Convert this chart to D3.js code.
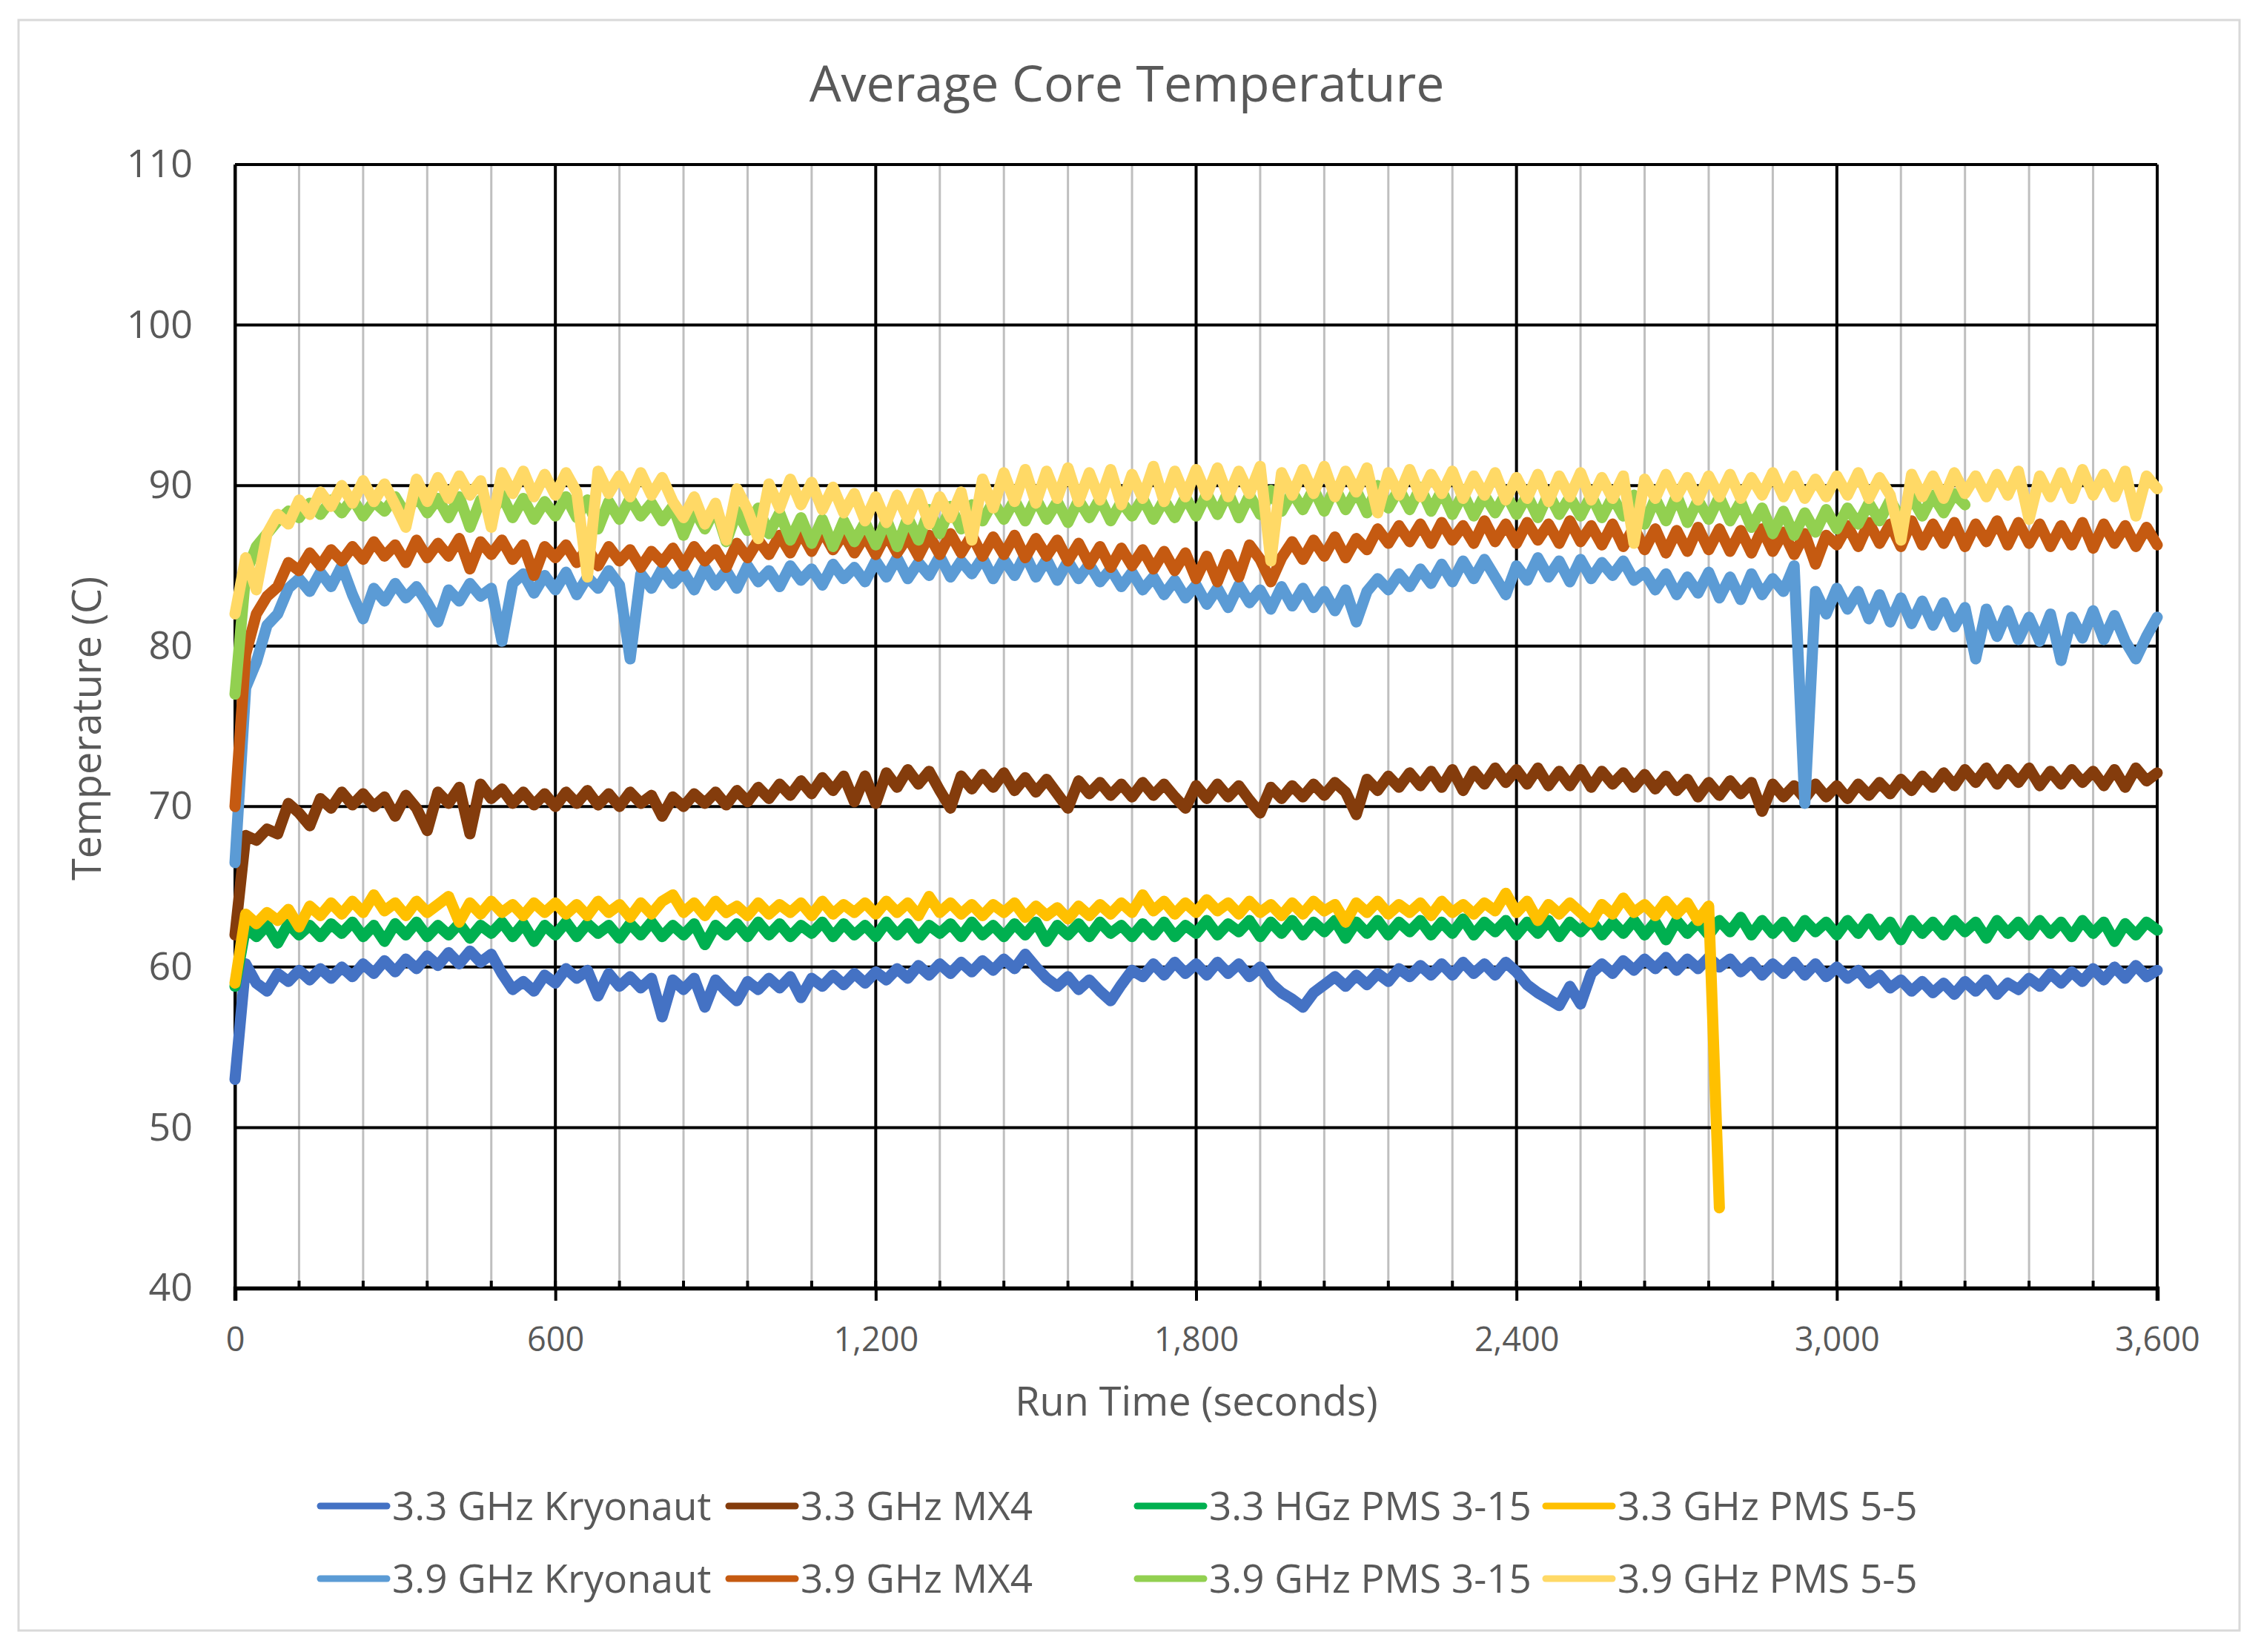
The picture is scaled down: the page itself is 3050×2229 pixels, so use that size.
<!DOCTYPE html>
<html lang="en">

<head>
    <meta charset="UTF-8">
    <title>Average Core Temperature</title>
    <script src="https://cdn.jsdelivr.net/npm/d3@7"></script>
    <style>
        body { margin: 0; background: #fff; }
        /* Excel-like grey text */
        text { font-family: "Open Sans", sans-serif; fill: #595959; }
    </style>
</head>

<body>
    <script>
        const width = 3050;
        const height = 2229;

        // one reading every 20 seconds
        const stepSeconds = 20;
        const xTicks = [0, 600, 1200, 1800, 2400, 3000, 3600];
        const xMinorStep = 120;
        const yTicks = [40, 50, 60, 70, 80, 90, 100, 110];

        const seriesNames = [
            "3.3 GHz Kryonaut", "3.3 GHz MX4", "3.3 HGz PMS 3-15", "3.3 GHz PMS 5-5",
            "3.9 GHz Kryonaut", "3.9 GHz MX4", "3.9 GHz PMS 3-15", "3.9 GHz PMS 5-5"
        ];
        const seriesColors = [
            "#4472C4", "#843C0C", "#00B050", "#FFC000",
            "#5B9BD5", "#C55A11", "#92D050", "#FFD966"
        ];

        const kryonaut33 = [
            53.0, 60.2, 59.0, 58.5, 59.6, 59.1, 59.8, 59.2, 59.9, 59.3,
            60.0, 59.4, 60.2, 59.6, 60.4, 59.7, 60.5, 59.9, 60.7, 60.1,
            60.9, 60.2, 61.0, 60.3, 60.8, 59.6, 58.6, 59.1, 58.5, 59.5,
            59.0, 59.9, 59.3, 59.8, 58.2, 59.6, 58.8, 59.4, 58.7, 59.3,
            56.9, 59.2, 58.6, 59.3, 57.5, 59.2, 58.5, 57.9, 59.1, 58.6,
            59.3, 58.7, 59.4, 58.1, 59.3, 58.8, 59.5, 58.9, 59.6, 59.0,
            59.7, 59.2, 59.9, 59.3, 60.1, 59.5, 60.2, 59.6, 60.3, 59.7,
            60.4, 59.8, 60.5, 59.9, 60.8, 60.0, 59.3, 58.8, 59.4, 58.6,
            59.2, 58.5, 57.9, 58.9, 59.8, 59.4, 60.2, 59.5, 60.3, 59.6,
            60.2, 59.5, 60.3, 59.6, 60.2, 59.4, 60.0, 59.0, 58.4, 58.0,
            57.5, 58.4, 58.9, 59.4, 58.8, 59.5, 58.9, 59.6, 59.1, 59.9,
            59.4, 60.1, 59.5, 60.2, 59.5, 60.3, 59.6, 60.2, 59.5, 60.3,
            59.7, 58.9, 58.4, 58.0, 57.6, 58.8, 57.7, 59.6, 60.2, 59.6,
            60.4, 59.8, 60.5, 59.9, 60.6, 59.8, 60.5, 59.9, 60.6, 60.0,
            60.5, 59.7, 60.3, 59.5, 60.2, 59.6, 60.3, 59.5, 60.2, 59.4,
            60.0, 59.3, 59.8, 59.0, 59.5, 58.7, 59.2, 58.5, 59.1, 58.4,
            59.0, 58.3, 59.1, 58.5, 59.2, 58.3, 59.0, 58.6, 59.3, 58.8,
            59.6, 59.0, 59.7, 59.1, 59.9, 59.2, 60.0, 59.3, 60.1, 59.4,
            59.8
        ];
        const mx4_33 = [
            62.0, 68.2, 67.9, 68.6, 68.3, 70.2, 69.6, 68.8, 70.5, 69.9,
            70.9, 70.1, 70.8, 70.0, 70.6, 69.4, 70.7, 69.9, 68.5, 70.9,
            70.2, 71.2, 68.3, 71.4, 70.5, 71.1, 70.2, 70.9, 70.1, 70.8,
            70.0, 70.9, 70.2, 71.0, 70.1, 70.8, 70.0, 70.9, 70.2, 70.7,
            69.4, 70.6, 70.0, 70.8, 70.2, 70.9, 70.1, 71.0, 70.3, 71.2,
            70.5, 71.4, 70.7, 71.6, 70.8, 71.8, 71.0, 71.9, 70.3, 71.9,
            70.2, 72.1, 71.2, 72.3, 71.4, 72.2, 71.0, 69.9, 71.9, 71.1,
            72.0, 71.2, 72.1, 71.0, 71.8, 70.9, 71.7, 70.8, 69.9, 71.6,
            70.8, 71.5, 70.7, 71.4, 70.6, 71.5, 70.7, 71.4, 70.6, 69.9,
            71.3, 70.5, 71.4, 70.6, 71.3, 70.4, 69.6, 71.2, 70.5, 71.3,
            70.6, 71.4, 70.7, 71.5, 70.9, 69.5, 71.7, 71.0, 71.9, 71.2,
            72.1, 71.3, 72.2, 71.2, 72.3, 71.0, 72.2, 71.4, 72.4, 71.5,
            72.3, 71.4, 72.4, 71.3, 72.2, 71.3, 72.3, 71.2, 72.2, 71.4,
            72.1, 71.2, 72.0, 71.1, 71.9, 71.0, 71.7, 70.6, 71.5, 70.7,
            71.6, 70.8, 71.5, 69.7, 71.4, 70.6, 71.3, 70.5, 71.4, 70.6,
            71.3, 70.5, 71.4, 70.7, 71.5, 70.8, 71.7, 71.0, 71.9, 71.2,
            72.1, 71.3, 72.3, 71.5, 72.4, 71.4, 72.3, 71.5, 72.4, 71.3,
            72.2, 71.4, 72.3, 71.5, 72.2, 71.3, 72.3, 71.2, 72.4, 71.6,
            72.1
        ];
        const pms315_33 = [
            58.8, 62.5, 61.9, 62.6, 61.5, 62.7, 62.0, 62.6, 61.9, 62.7,
            62.1, 62.8, 61.9, 62.6, 61.6, 62.7, 62.0, 62.8, 61.9, 62.6,
            62.0, 62.7, 61.8, 62.6, 62.1, 62.8, 61.9, 62.7, 61.6, 62.6,
            62.0, 62.8, 61.9, 62.7, 62.1, 62.6, 61.8, 62.7, 62.0, 62.8,
            61.9, 62.6, 62.0, 62.7, 61.4, 62.6, 62.0, 62.7, 61.9, 62.8,
            62.0, 62.7, 61.9, 62.6, 62.1, 62.8, 61.9, 62.7, 62.0, 62.6,
            61.9, 62.8, 62.0, 62.7, 61.8, 62.6, 62.1, 62.7, 61.9, 62.8,
            62.0, 62.6, 61.9, 62.7, 62.0, 62.8, 61.6, 62.6, 62.0, 62.7,
            61.9, 62.8, 62.1, 62.6, 61.9, 62.7, 62.0, 62.8, 61.9, 62.6,
            62.1, 62.9, 62.0, 62.7, 62.2, 62.9, 61.9, 62.8, 62.1, 62.9,
            62.0, 62.8, 62.2, 62.9, 61.8, 62.8, 62.1, 62.9, 62.0, 62.8,
            62.2, 62.9, 62.0, 62.8, 62.1, 63.0, 62.0, 62.8, 62.2, 62.9,
            62.0, 62.8, 62.1, 62.9, 61.9, 62.8, 62.2, 62.9, 62.0, 62.8,
            62.1, 62.9, 62.0, 62.8, 61.7, 62.9, 62.1, 62.8, 62.0, 62.9,
            62.2, 63.1, 62.0, 62.9, 62.1, 62.8, 61.9, 62.9, 62.2, 62.8,
            62.0, 62.9, 62.1, 63.0, 62.0, 62.8, 61.7, 62.9, 62.1, 62.8,
            62.0, 62.9, 62.2, 62.8, 61.8, 62.9, 62.1, 62.8, 62.0, 62.9,
            62.1, 62.8, 61.9, 62.9, 62.1, 62.8, 61.6, 62.7, 62.0, 62.8,
            62.3
        ];
        // this run stops at about 2780 s with a drop to 45
        const pms55_33 = [
            59.0, 63.3, 62.7, 63.4, 62.9, 63.6, 62.5, 63.8, 63.2, 64.0,
            63.3, 64.1, 63.4, 64.5, 63.5, 64.0, 63.2, 64.1, 63.4, 63.9,
            64.4, 62.8, 64.0, 63.3, 64.1, 63.4, 63.9, 63.2, 64.0, 63.4,
            64.0, 63.3, 63.9, 63.2, 64.1, 63.4, 63.9, 63.1, 64.0, 63.3,
            64.1, 64.5, 63.4, 64.0, 63.2, 64.1, 63.4, 63.8, 63.2, 64.0,
            63.3, 63.9, 63.4, 64.0, 63.2, 64.1, 63.3, 63.9, 63.4, 64.0,
            63.3, 64.1, 63.4, 64.0, 63.2, 64.4, 63.4, 64.0, 63.3, 63.9,
            63.2, 63.9, 63.4, 64.0, 63.1, 63.8, 63.2, 63.7, 63.0, 63.8,
            63.2, 63.9, 63.3, 64.0, 63.4, 64.5, 63.5, 64.1, 63.3, 64.0,
            63.4, 64.2, 63.5, 64.0, 63.3, 64.1, 63.4, 63.9, 63.2, 64.0,
            63.3, 64.1, 63.5, 63.9, 62.8, 64.0, 63.4, 64.1, 63.3, 63.9,
            63.4, 64.0, 63.2, 64.1, 63.4, 63.9, 63.3, 64.0, 63.5, 64.6,
            63.4, 64.1, 62.9, 63.9, 63.3, 64.0, 63.4, 62.8, 63.9, 63.3,
            64.3, 63.4, 63.9, 63.2, 64.1, 63.3, 64.0, 62.9, 63.8, 45.0
        ];
        const kryonaut39 = [
            66.5, 77.4, 79.0, 81.3, 82.0, 83.6, 84.2, 83.4, 84.6, 83.7,
            85.0, 83.2, 81.7, 83.6, 82.8, 83.9, 83.0, 83.7, 82.7, 81.5,
            83.5, 82.8, 83.9, 83.1, 83.6, 80.3, 83.9, 84.5, 83.3, 84.4,
            83.5, 84.6, 83.2, 84.3, 83.6, 84.7, 83.8, 79.2, 84.5, 83.6,
            84.8, 83.9, 84.6, 83.5, 84.9, 83.8, 84.7, 83.6, 85.0, 84.0,
            84.7, 83.7, 85.0, 84.1, 84.8, 83.8, 85.1, 84.2, 84.9, 84.0,
            85.3, 84.3, 85.5, 84.2, 85.2, 84.4, 85.6, 84.3, 85.3, 84.5,
            85.5, 84.2, 85.4, 84.4, 85.7, 84.3, 85.4, 84.1, 85.3, 84.2,
            85.1, 84.0, 84.8, 83.7, 84.6, 83.5, 84.3, 83.2, 84.1, 83.0,
            83.8, 82.6, 83.6, 82.4, 83.8, 82.7, 83.5, 82.3, 83.7, 82.5,
            83.6, 82.4, 83.4, 82.2, 83.5, 81.5, 83.4, 84.2, 83.5, 84.5,
            83.7, 84.8, 83.9, 85.1, 84.0, 85.3, 84.2, 85.4, 84.3, 83.2,
            85.0, 84.1, 85.5, 84.3, 85.3, 84.0, 85.4, 84.2, 85.2, 84.4,
            85.3, 84.1, 84.6, 83.5, 84.5, 83.2, 84.3, 83.3, 84.6, 83.0,
            84.3, 82.9, 84.5, 83.2, 84.2, 83.4, 85.0, 70.2, 83.4, 82.0,
            83.6, 82.3, 83.4, 81.7, 83.2, 81.5, 83.0, 81.4, 82.8, 81.3,
            82.7, 81.2, 82.4, 79.2, 82.3, 80.6, 82.2, 80.4, 81.8, 80.3,
            82.0, 79.1, 81.8, 80.5, 82.2, 80.4, 81.9, 80.3, 79.2, 80.6,
            81.8
        ];
        const mx4_39 = [
            70.0, 79.5, 82.0, 83.1, 83.7, 85.2, 84.7, 85.8, 85.0, 86.0,
            85.3, 86.2, 85.4, 86.5, 85.6, 86.3, 85.2, 86.6, 85.5, 86.4,
            85.6, 86.7, 84.8, 86.5, 85.7, 86.6, 85.4, 86.3, 84.4, 86.2,
            85.5, 86.3, 85.2, 86.1, 85.0, 86.2, 85.3, 86.0, 84.9, 85.9,
            85.2, 86.1, 85.0, 86.2, 85.3, 86.0, 84.9, 86.4, 85.5, 86.6,
            85.7, 86.9, 85.8, 87.1, 85.9, 87.2, 86.0, 87.0, 85.8, 86.9,
            85.7, 87.0, 85.8, 86.8, 85.6, 86.9, 85.7, 87.0, 85.8, 86.9,
            85.6, 86.8, 85.7, 86.9, 85.5, 86.7, 85.6, 86.6, 85.3, 86.4,
            85.1, 86.2, 84.9, 86.1, 85.0, 86.0, 84.8, 85.9, 84.7, 85.8,
            84.2, 85.6, 84.0, 85.7, 84.3, 86.3, 85.4, 84.0, 85.5, 86.5,
            85.4, 86.6, 85.6, 86.8, 85.5, 86.7, 86.0, 87.3, 86.4, 87.5,
            86.5, 87.6, 86.4, 87.7, 86.6, 87.5, 86.4, 87.8, 86.5, 87.6,
            86.4, 87.7, 86.6, 87.6, 86.4, 87.8, 86.5, 87.5, 86.3, 87.6,
            86.2, 87.4, 86.0, 87.3, 85.8, 87.2, 85.9, 87.4, 86.0, 87.3,
            85.9, 87.2, 85.8, 87.3, 85.9, 87.1, 85.7, 87.0, 85.1, 86.9,
            86.3, 87.5, 86.2, 87.7, 86.4, 87.6, 86.2, 87.8, 86.3, 87.6,
            86.4, 87.7, 86.2, 87.6, 86.5, 87.8, 86.3, 87.7, 86.4, 87.6,
            86.2, 87.5, 86.3, 87.7, 86.1, 87.6, 86.4, 87.5, 86.2, 87.4,
            86.3
        ];
        // this run stops at about 3240 s
        const pms315_39 = [
            77.0, 84.5, 86.2, 87.0, 87.8, 88.4, 88.0, 88.9, 88.2, 89.1,
            88.3, 89.2, 88.1, 89.0, 88.4, 89.3, 88.2, 89.4, 88.3, 89.2,
            88.0, 89.3, 87.4, 89.1, 88.2, 89.4, 88.0, 89.2, 87.9, 89.0,
            88.1, 89.3, 88.0, 89.1, 87.3, 89.0, 87.9, 89.2, 88.1, 88.9,
            87.8, 88.7, 86.9, 88.5, 87.3, 88.6, 86.5, 88.4, 87.2, 88.6,
            87.0, 88.3, 86.6, 88.0, 86.4, 87.9, 86.2, 87.8, 86.5, 87.7,
            86.3, 87.9, 86.2, 88.0, 86.6, 88.5, 87.0, 88.7, 87.3, 88.8,
            87.8, 89.0, 87.9, 89.1, 87.8, 89.2, 87.9, 89.0, 87.7, 89.1,
            88.0, 89.2, 87.8, 89.0, 88.1, 89.2, 87.9, 89.1, 88.0, 89.3,
            88.1, 89.5, 88.2, 89.6, 88.0, 89.4, 88.2, 89.7, 88.4, 89.6,
            88.5, 89.8, 88.4, 89.9, 88.5, 89.7, 88.3, 90.0, 88.6, 89.8,
            88.5, 89.9, 88.4, 89.7, 88.2, 89.5, 88.1, 89.4, 88.3, 89.5,
            88.2, 89.4, 88.0, 89.5, 88.2, 89.3, 88.1, 89.4, 88.0, 89.3,
            88.1, 89.4, 87.6, 89.2, 87.8, 89.4, 87.7, 89.1, 87.9, 89.3,
            87.8, 89.0, 87.4, 88.6, 87.0, 88.4, 86.9, 88.3, 87.1, 88.5,
            87.3, 88.6, 87.6, 88.9, 87.8, 89.1, 87.9, 89.3, 88.1, 89.4,
            88.3, 89.5, 88.8
        ];
        const pms55_39 = [
            82.0, 85.5, 83.5, 87.0, 88.2, 87.6, 89.1, 88.2, 89.6, 88.7,
            90.0, 88.9, 90.3, 89.0, 90.1, 88.8, 87.4, 90.4, 89.0, 90.5,
            89.2, 90.6, 89.4, 90.3, 87.4, 90.8, 89.5, 90.9, 89.3, 90.7,
            89.4, 90.8, 89.6, 84.3, 90.9, 89.5, 90.6, 89.3, 90.8, 89.4,
            90.5, 89.0, 88.0, 89.3, 87.6, 88.9, 86.6, 89.8, 88.5, 86.7,
            90.1, 88.6, 90.4, 88.8, 90.2, 88.5, 89.9, 88.3, 89.5, 87.8,
            89.3, 87.7, 89.4, 87.9, 89.5, 87.6, 89.3, 88.0, 89.6, 86.6,
            90.4, 88.6, 90.8, 89.0, 91.0, 88.9, 90.9, 89.2, 91.1, 89.0,
            90.8, 89.1, 91.0, 88.8, 90.7, 89.2, 91.2, 89.0, 90.9, 89.3,
            91.0, 89.4, 91.1, 89.3, 90.9, 89.5, 91.2, 85.3, 90.8, 89.4,
            91.0, 89.5, 91.2, 89.3, 90.9, 89.6, 91.1, 88.3, 90.8, 89.4,
            91.0, 89.3, 90.7, 89.5, 90.9, 89.2, 90.6, 89.4, 90.8, 89.1,
            90.5, 89.2, 90.7, 89.0, 90.6, 89.3, 90.8, 89.1, 90.5, 89.2,
            90.6, 86.4, 90.4, 89.2, 90.7, 89.3, 90.5, 89.1, 90.6, 89.3,
            90.7, 89.2, 90.5, 89.4, 90.8, 89.3, 90.6, 89.2, 90.4, 89.3,
            90.6, 89.4, 90.8, 89.2, 90.5, 89.4, 86.6, 90.7, 89.3, 90.6,
            89.2, 90.8, 89.5, 90.6, 89.3, 90.7, 89.4, 90.9, 87.9, 90.6,
            89.3, 90.8, 89.2, 91.0, 89.4, 90.7, 89.3, 90.9, 88.1, 90.6,
            89.8
        ];

        const seriesValues = [
            kryonaut33, mx4_33, pms315_33, pms55_33,
            kryonaut39, mx4_39, pms315_39, pms55_39
        ];

        const svg = d3.select("body")
            .append("svg")
            .attr("width", width)
            .attr("height", height);

        // chart area frame
        svg.append("rect")
            .attr("x", 25).attr("y", 27)
            .attr("width", 2996).attr("height", 2173)
            .attr("fill", "#fff")
            .attr("stroke", "#d9d9d9")
            .attr("stroke-width", 3);

        const x = d3.scaleLinear().domain([0, 3600]).range([317, 2910]);
        const y = d3.scaleLinear().domain([40, 110]).range([1738, 222]);

        // minor vertical grid (every 120 s)
        const minorTicks = d3.range(0, 3601, xMinorStep).filter(t => t % 600 !== 0);
        svg.append("g")
            .selectAll("line")
            .data(minorTicks)
            .join("line")
            .attr("x1", d => x(d)).attr("x2", d => x(d))
            .attr("y1", y(40)).attr("y2", y(110))
            .attr("stroke", "#bfbfbf")
            .attr("stroke-width", 3);

        // major grid
        svg.append("g")
            .selectAll("line")
            .data(xTicks)
            .join("line")
            .attr("x1", d => x(d)).attr("x2", d => x(d))
            .attr("y1", y(40)).attr("y2", y(110))
            .attr("stroke", "#000")
            .attr("stroke-width", 4);

        svg.append("g")
            .selectAll("line")
            .data(yTicks)
            .join("line")
            .attr("x1", x(0)).attr("x2", x(3600))
            .attr("y1", d => y(d)).attr("y2", d => y(d))
            .attr("stroke", "#000")
            .attr("stroke-width", 4);

        // y axis
        const yAxis = svg.append("g")
            .attr("transform", `translate(${x(0)},0)`)
            .call(d3.axisLeft(y).tickValues(yTicks).tickSize(0).tickPadding(57));
        yAxis.select(".domain").attr("stroke", "#000").attr("stroke-width", 4);
        yAxis.selectAll("text")
            .style("font-family", '"Open Sans", sans-serif')
            .style("font-size", "52px")
            .attr("fill", "#595959");

        // x axis
        const xAxis = svg.append("g")
            .attr("transform", `translate(0,${y(40)})`)
            .call(d3.axisBottom(x).tickValues(xTicks).tickSize(17).tickFormat(d3.format(",")));
        xAxis.select(".domain").attr("stroke", "#000").attr("stroke-width", 5.5);
        xAxis.selectAll(".tick line").attr("stroke", "#000").attr("stroke-width", 4);
        xAxis.selectAll("text")
            .attr("y", 85).attr("dy", null)
            .style("font-family", '"Open Sans", sans-serif')
            .style("font-size", "45px")
            .attr("fill", "#595959");

        // minor ticks sit inside the plot
        svg.append("g")
            .selectAll("line")
            .data(d3.range(0, 3601, xMinorStep))
            .join("line")
            .attr("x1", d => x(d)).attr("x2", d => x(d))
            .attr("y1", y(40) - 10).attr("y2", y(40))
            .attr("stroke", "#000")
            .attr("stroke-width", 4);

        // series (thick strokes stand in for the dense noisy bands)
        const line = d3.line()
            .x((d, i) => x(i * stepSeconds))
            .y(d => y(d));

        svg.append("g")
            .selectAll("path")
            .data(seriesValues)
            .join("path")
            .attr("d", line)
            .attr("fill", "none")
            .attr("stroke", (d, i) => seriesColors[i])
            .attr("stroke-width", 15)
            .attr("stroke-linejoin", "round")
            .attr("stroke-linecap", "round");

        // titles
        svg.append("text")
            .attr("x", 1520).attr("y", 137)
            .attr("text-anchor", "middle")
            .style("font-size", "68px")
            .text("Average Core Temperature");

        svg.append("text")
            .attr("transform", "translate(136,983) rotate(-90)")
            .attr("text-anchor", "middle")
            .style("font-size", "54px")
            .text("Temperature (C)");

        svg.append("text")
            .attr("x", 1614).attr("y", 1910)
            .attr("text-anchor", "middle")
            .style("font-size", "54px")
            .text("Run Time (seconds)");

        // legend: 4 columns, 2 rows
        const legend = svg.append("g")
            .selectAll("g")
            .data(seriesNames)
            .join("g")
            .attr("transform", (d, i) => `translate(${432 + (i % 4) * 551},${2032 + Math.floor(i / 4) * 98})`);

        legend.append("line")
            .attr("x1", 0).attr("x2", 90)
            .attr("stroke", (d, i) => seriesColors[i])
            .attr("stroke-width", 9)
            .attr("stroke-linecap", "round");

        legend.append("text")
            .attr("x", 97).attr("y", 19)
            .style("font-size", "53px")
            .text(d => d);
    </script>
</body>

</html>
